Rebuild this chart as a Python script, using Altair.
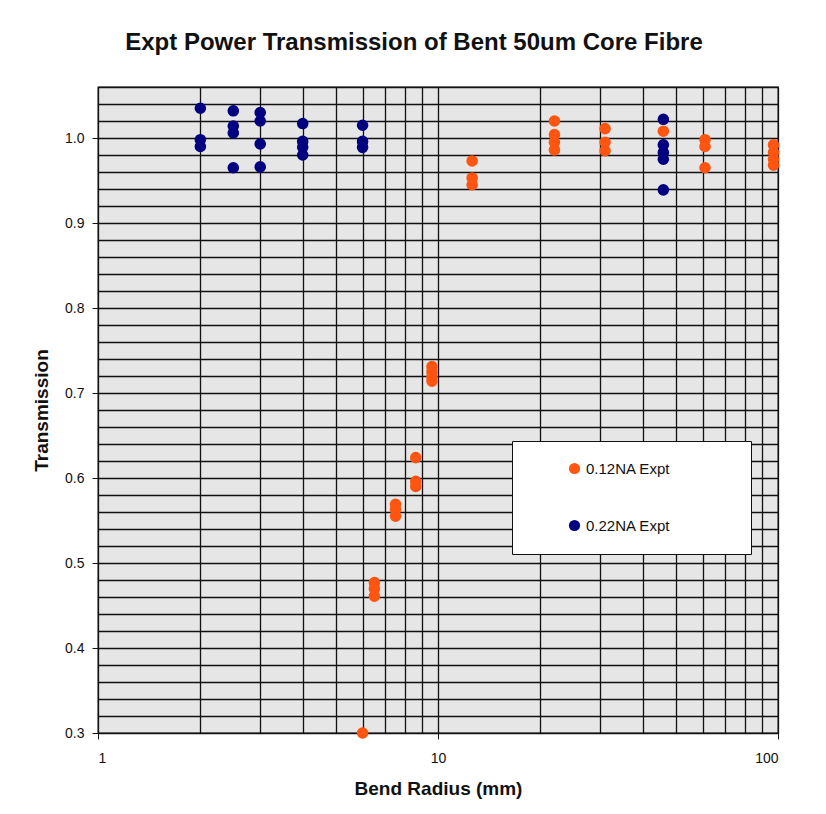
import altair as alt
import pandas as pd

# Data
na12_x = [6.0, 6.5, 6.5, 6.5, 7.5, 7.5, 7.5, 8.6, 8.6, 8.6, 9.6, 9.6, 9.6, 9.6,
          12.6, 12.6, 12.6, 22, 22, 22, 22, 31, 31, 31, 46, 61, 61, 61, 97, 97, 97, 97]
na12_y = [0.300, 0.477, 0.470, 0.461, 0.569, 0.563, 0.555, 0.624, 0.596, 0.590,
          0.731, 0.725, 0.719, 0.714, 0.973, 0.953, 0.945, 1.020, 1.004, 0.995, 0.986,
          1.011, 0.995, 0.985, 1.008, 0.998, 0.990, 0.965, 0.992, 0.983, 0.975, 0.968]
na22_x = [2, 2, 2, 2.5, 2.5, 2.5, 2.5, 3, 3, 3, 3, 4, 4, 4, 4, 6, 6, 6, 46, 46, 46, 46, 46]
na22_y = [1.035, 0.998, 0.990, 1.032, 1.014, 1.006, 0.965, 1.030, 1.020, 0.993, 0.966,
          1.017, 0.996, 0.989, 0.980, 1.015, 0.996, 0.989, 1.022, 0.992, 0.983, 0.975, 0.939]
series_names = ["0.12NA Expt", "0.22NA Expt"]
series_colors = ["#FF5511", "#000080"]

x_grid = [1, 2, 3, 4, 5, 6, 7, 8, 9, 10, 20, 30, 40, 50, 60, 70, 80, 90, 100]
y_grid = [round(0.30 + 0.02 * i, 2) for i in range(39)]

df = pd.concat([
    pd.DataFrame({"radius": na12_x, "trans": na12_y, "series": series_names[0]}),
    pd.DataFrame({"radius": na22_x, "trans": na22_y, "series": series_names[1]}),
])

FONT = "Liberation Sans"

chart = alt.Chart(df).mark_circle(size=135, opacity=1).encode(
    x=alt.X("radius:Q",
            scale=alt.Scale(type="log", domain=[1, 100], nice=False),
            axis=alt.Axis(
                title="Bend Radius (mm)", values=x_grid, format="d",
                labelExpr="(datum.value == 1 || datum.value == 10 || datum.value == 100) ? datum.label : ''",
                tickOpacity={"condition": {"test": "datum.value == 1 || datum.value == 10 || datum.value == 100", "value": 1}, "value": 0},
                grid=True, gridColor="#111111", gridWidth=1.3,
                tickSize=6, tickColor="#111111", labelPadding=12,
                domainColor="#111111", titlePadding=14,
            )),
    y=alt.Y("trans:Q",
            scale=alt.Scale(domain=[0.3, 1.06], nice=False, zero=False),
            axis=alt.Axis(
                title="Transmission", values=y_grid, format=".1f",
                labelExpr="(round(datum.value * 100) % 10 == 0) ? datum.label : ''",
                tickOpacity={"condition": {"test": "round(datum.value * 100) % 10 == 0", "value": 1}, "value": 0},
                grid=True, gridColor="#111111", gridWidth=1.3,
                tickSize=6, tickColor="#111111", labelPadding=8,
                domainColor="#111111", titlePadding=13,
            )),
    color=alt.Color("series:N",
                    scale=alt.Scale(domain=series_names, range=series_colors),
                    legend=alt.Legend(
                        title="\u2800", titleOrient="right", titlePadding=50,
                        titleFontSize=15, titleColor="white",
                        orient="none", legendX=414, legendY=354,
                        fillColor="white", strokeColor="#111111", padding=20,
                        symbolType="circle", symbolSize=125, symbolOffset=35,
                        symbolStrokeWidth=0, labelOffset=4, rowPadding=41,
                        labelFontSize=15, labelFont=FONT, labelColor="#111111",
                    )),
).properties(
    width=680, height=646,
    background="white",
    title=alt.TitleParams("Expt Power Transmission of Bent 50um Core Fibre",
                          fontSize=24, font=FONT, fontWeight="bold", color="#111111",
                          offset=32, dx=-24),
    padding={"left": 90, "top": 79, "right": 40, "bottom": 73},
    autosize=alt.AutoSizeParams(type="none"),
).configure_view(
    fill="#e6e6e6", stroke="#111111", strokeWidth=1.3,
).configure_axis(
    labelFont=FONT, labelFontSize=14, labelColor="#111111",
    titleFont=FONT, titleFontSize=19, titleFontWeight="bold", titleColor="#111111",
)

chart.save("out.html", embed_options={"renderer": "svg", "actions": False})
